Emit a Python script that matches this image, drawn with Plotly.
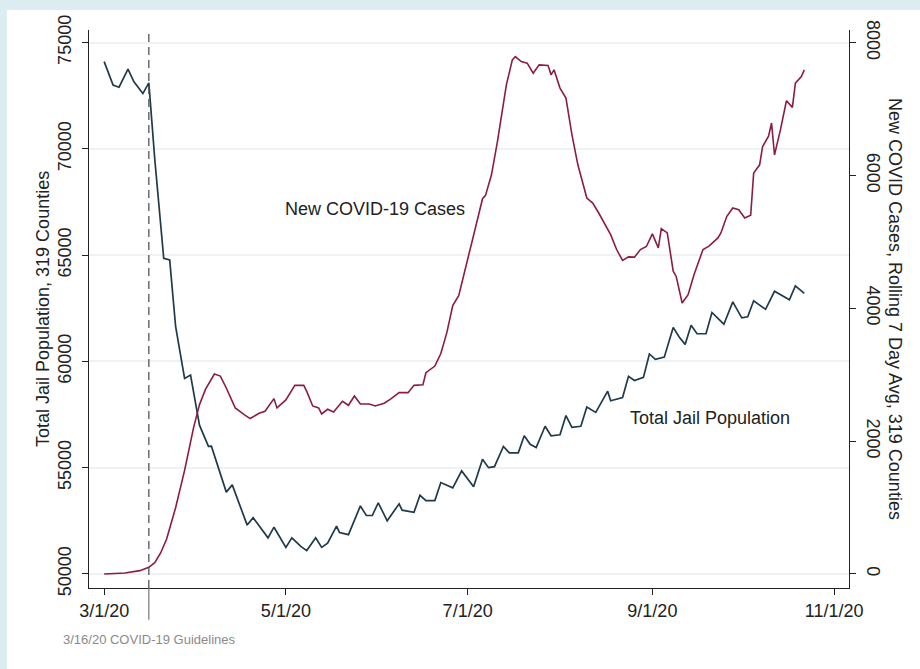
#### Jail population vs new COVID-19 cases

from plotly.graph_objects import Scatter, Figure

# daily jail totals, 319 counties (left axis)
jail_dates = [
    "2020-03-01", "2020-03-04", "2020-03-06", "2020-03-09", "2020-03-11", "2020-03-14",
    "2020-03-16", "2020-03-18", "2020-03-21", "2020-03-23", "2020-03-25", "2020-03-28",
    "2020-03-30", "2020-04-02", "2020-04-05", "2020-04-06", "2020-04-11", "2020-04-13",
    "2020-04-18", "2020-04-20", "2020-04-25", "2020-04-27", "2020-05-01", "2020-05-03",
    "2020-05-06", "2020-05-08", "2020-05-11", "2020-05-13", "2020-05-15", "2020-05-18",
    "2020-05-19", "2020-05-22", "2020-05-26", "2020-05-28", "2020-05-30", "2020-06-01",
    "2020-06-04", "2020-06-08", "2020-06-09", "2020-06-13", "2020-06-15", "2020-06-17",
    "2020-06-20", "2020-06-22", "2020-06-26", "2020-06-29", "2020-07-03", "2020-07-06",
    "2020-07-08", "2020-07-10", "2020-07-13", "2020-07-15", "2020-07-18", "2020-07-20",
    "2020-07-22", "2020-07-24", "2020-07-27", "2020-07-29", "2020-08-01", "2020-08-03",
    "2020-08-05", "2020-08-08", "2020-08-10", "2020-08-13", "2020-08-17", "2020-08-18",
    "2020-08-22", "2020-08-24", "2020-08-26", "2020-08-29", "2020-08-31", "2020-09-02",
    "2020-09-05", "2020-09-08", "2020-09-10", "2020-09-12", "2020-09-14", "2020-09-16",
    "2020-09-19", "2020-09-21", "2020-09-25", "2020-09-28", "2020-10-01", "2020-10-03",
    "2020-10-05", "2020-10-09", "2020-10-12", "2020-10-17", "2020-10-19", "2020-10-22",
]
jail_pop = [
    74100, 73000, 72900, 73750, 73150, 72600,
    73100, 69500, 64850, 64770, 61630, 59200,
    59360, 57000, 56000, 56010, 53850, 54190,
    52300, 52650, 51700, 52200, 51250, 51700,
    51300, 51100, 51700, 51250, 51450, 52250,
    51950, 51850, 53200, 52750, 52750, 53350,
    52500, 53300, 53000, 52900, 53700, 53450,
    53450, 54300, 54050, 54850, 54100, 55400,
    55000, 55050, 56000, 55700, 55700, 56500,
    56100, 55950, 56950, 56500, 56550, 57450,
    56900, 56950, 57850, 57600, 58600, 58150,
    58300, 59300, 59100, 59250, 60350, 60100,
    60200, 61600, 61150, 60800, 61700, 61300,
    61300, 62300, 61750, 62800, 62050, 62100,
    62850, 62450, 63300, 62900, 63550, 63200,
]

# new cases, rolling 7 day average (right axis)
case_dates = [
    "2020-03-01", "2020-03-08", "2020-03-13", "2020-03-16", "2020-03-18", "2020-03-20",
    "2020-03-22", "2020-03-25", "2020-03-28", "2020-03-31", "2020-04-02", "2020-04-04",
    "2020-04-07", "2020-04-09", "2020-04-11", "2020-04-14", "2020-04-17", "2020-04-19",
    "2020-04-22", "2020-04-24", "2020-04-27", "2020-04-28", "2020-05-01", "2020-05-03",
    "2020-05-04", "2020-05-07", "2020-05-08", "2020-05-10", "2020-05-12", "2020-05-13",
    "2020-05-15", "2020-05-17", "2020-05-20", "2020-05-22", "2020-05-24", "2020-05-26",
    "2020-05-29", "2020-05-31", "2020-06-03", "2020-06-05", "2020-06-08", "2020-06-11",
    "2020-06-13", "2020-06-16", "2020-06-17", "2020-06-20", "2020-06-22", "2020-06-24",
    "2020-06-26", "2020-06-28", "2020-07-01", "2020-07-03", "2020-07-06", "2020-07-07",
    "2020-07-09", "2020-07-11", "2020-07-14", "2020-07-16", "2020-07-17", "2020-07-19",
    "2020-07-21", "2020-07-23", "2020-07-25", "2020-07-28", "2020-07-29", "2020-07-30",
    "2020-08-01", "2020-08-03", "2020-08-05", "2020-08-07", "2020-08-10", "2020-08-12",
    "2020-08-14", "2020-08-18", "2020-08-20", "2020-08-22", "2020-08-24", "2020-08-26",
    "2020-08-28", "2020-08-30", "2020-09-01", "2020-09-03", "2020-09-04", "2020-09-06",
    "2020-09-08", "2020-09-09", "2020-09-11", "2020-09-13", "2020-09-15", "2020-09-18",
    "2020-09-20", "2020-09-23", "2020-09-24", "2020-09-26", "2020-09-28", "2020-09-30",
    "2020-10-02", "2020-10-04", "2020-10-05", "2020-10-07", "2020-10-08", "2020-10-10",
    "2020-10-11", "2020-10-12", "2020-10-14", "2020-10-16", "2020-10-18", "2020-10-19",
    "2020-10-21", "2020-10-22",
]
new_cases = [
    0, 15, 50, 100, 170, 320,
    530, 1000, 1560, 2200, 2550, 2780,
    3010, 2980, 2800, 2500, 2400, 2340,
    2420, 2450, 2640, 2500, 2620, 2760,
    2840, 2840, 2750, 2530, 2500, 2410,
    2480, 2440, 2600, 2540, 2680, 2560,
    2560, 2530, 2570, 2630, 2730, 2730,
    2840, 2850, 3030, 3130, 3320, 3630,
    4040, 4190, 4710, 5100, 5650, 5700,
    6010, 6510, 7365, 7740, 7790, 7715,
    7690, 7540, 7665, 7655, 7515, 7590,
    7315, 7165, 6615, 6160, 5660, 5585,
    5435, 5110, 4885, 4720, 4775, 4770,
    4885, 4930, 5120, 4910, 5200, 5135,
    4560, 4480, 4080, 4205, 4510, 4885,
    4935, 5060, 5135, 5385, 5510, 5485,
    5360, 5400, 6035, 6160, 6435, 6590,
    6790, 6310, 6690, 7125, 7025, 7390,
    7490, 7590,
]

x_tick_vals = ["2020-03-01", "2020-05-01", "2020-07-01", "2020-09-01", "2020-11-01"]
x_tick_text = ["3/1/20", "5/1/20", "7/1/20", "9/1/20", "11/1/20"]
jail_ticks = [50000, 55000, 60000, 65000, 70000, 75000]
case_ticks = [0, 2000, 4000, 6000, 8000]
guideline_date = "2020-03-16"

FONT = "Liberation Sans, Arial, Helvetica, sans-serif"
INK = "#222222"


def make_fig():
    fig = Figure()
    fig.add_trace(Scatter(x=jail_dates, y=jail_pop, mode="lines", name="Total Jail Population",
                          line=dict(color="#1f3a4b", width=1.7), yaxis="y"))
    fig.add_trace(Scatter(x=case_dates, y=new_cases, mode="lines", name="New COVID-19 Cases",
                          line=dict(color="#8c1d40", width=1.6), yaxis="y2"))

    axis_common = dict(showline=True, linecolor=INK, linewidth=1.3, ticks="outside",
                       ticklen=6, tickwidth=1.3, tickcolor=INK, zeroline=False, automargin=False,
                       tickfont=dict(size=18, color=INK, family=FONT))

    fig.update_layout(
        width=920, height=669,
        margin=dict(l=89, r=71, t=30, b=81),
        paper_bgcolor="#dcedf2", plot_bgcolor="rgba(0,0,0,0)",
        showlegend=False,
        font=dict(family=FONT, color=INK),
        xaxis=dict(axis_common, type="date", range=["2020-02-24 22:00", "2020-11-06"],
                   tickvals=x_tick_vals, ticktext=x_tick_text, showgrid=False),
        yaxis=dict(axis_common, range=[49340, 75590], tickvals=jail_ticks, tickformat="d",
                   tickangle=-90, showgrid=True, gridcolor="#eef2f5", gridwidth=1.5,
                   ticklabelstandoff=4),
        yaxis2=dict(axis_common, range=[-211, 8190], tickvals=case_ticks, tickformat="d",
                    overlaying="y", side="right", tickangle=90, showgrid=False,
                    ticklabelstandoff=4),
    )

    # white panel inside the light blue frame
    fig.add_shape(type="rect", xref="paper", yref="paper", x0=-0.108, x1=1.2, y0=-0.2, y1=1.036,
                  fillcolor="white", line=dict(width=0), layer="below")

    # guideline marker
    fig.add_shape(type="line", xref="x", yref="paper", x0=guideline_date, x1=guideline_date,
                  y0=0, y1=1, line=dict(color="#555555", width=1.3, dash="8px,5px"))
    fig.add_shape(type="line", xref="x", yref="paper", x0=guideline_date, x1=guideline_date,
                  y0=-0.057, y1=0, line=dict(color="#777777", width=1.2))

    notes = [
        dict(text="New COVID-19 Cases", x=0.3757, y=0.679, size=18, color=INK, angle=0),
        dict(text="Total Jail Population", x=0.817, y=0.3047, size=18, color=INK, angle=0),
        dict(text="3/16/20 COVID-19 Guidelines", x=0.0783, y=-0.093, size=13, color="#8a8a8a", angle=0),
        dict(text="Total Jail Population, 319 Counties", x=-0.0605, y=0.5, size=18, color=INK, angle=-90),
        dict(text="New COVID Cases, Rolling 7 Day Avg, 319 Counties", x=1.0605, y=0.5, size=18,
             color=INK, angle=90),
    ]
    for n in notes:
        fig.add_annotation(text=n["text"], x=n["x"], y=n["y"], xref="paper", yref="paper",
                           showarrow=False, xanchor="center", yanchor="middle",
                           textangle=n["angle"], font=dict(size=n["size"], color=n["color"], family=FONT))
    return fig


def main():
    fig = make_fig()
    # drop the browser's default body margin so the figure sits at the page corner
    fig.write_html("out.html", config={"displayModeBar": False},
                   post_script="document.body.style.margin = '0';")


if __name__ == "__main__":
    main()
